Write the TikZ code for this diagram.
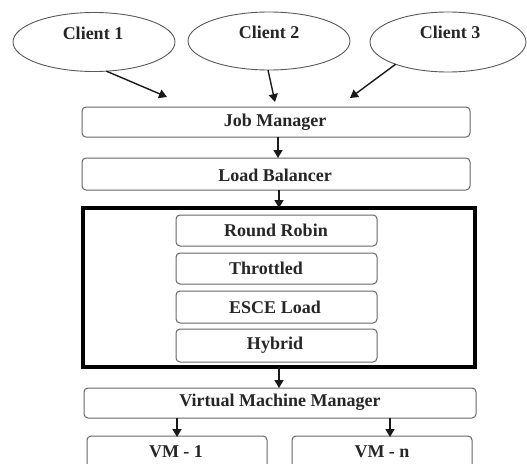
\documentclass[tikz,border=0pt]{standalone}
\usepackage{fontspec}
\setmainfont{Liberation Serif}
\usetikzlibrary{shapes.geometric,arrows.meta}
\begin{document}
\begin{tikzpicture}[x=1pt,y=-1pt,
  every node/.style={inner sep=0pt,outer sep=0pt},
  txt/.style={font=\fontsize{18}{20}\selectfont\bfseries, text=black!85},
  client/.style={ellipse,draw=black!65,line width=0.9pt},
  box/.style={draw=black!60,line width=1pt,rounded corners=4pt},
  arr/.style={draw=black!90,line width=1.4pt,-{Triangle[length=8pt,width=9pt]}}]
\useasboundingbox (0,0) rectangle (527,463);
\clip (0,0) rectangle (527,463);
\fill[white] (0,0) rectangle (527,463);
% clients
\node[client,minimum width=162,minimum height=59] (c1) at (94,42) {};
\node[client,minimum width=162,minimum height=58] (c2) at (269,41) {};
\node[client,minimum width=156,minimum height=60] (c3) at (448,42) {};
\node[txt] (t1) at (93,33) {Client 1};
\node[txt] (t2) at (269,32) {Client 2};
\node[txt] (t3) at (450,32) {Client 3};
% boxes
\node[box,minimum width=388,minimum height=30] (jm) at (276,122) {};
\node[txt] (jmt) at (275,122) {Job Manager};
\node[box,minimum width=388,minimum height=32] (lb) at (276,174) {};
\node[txt] (lbt) at (275,175) {Load Balancer};
\node[draw=black,line width=4pt,minimum width=392,minimum height=159] (fr) at (279,287.5) {};
\node[box,minimum width=201,minimum height=31] (rr) at (276.5,230.5) {};
\node[txt] (rrt) at (276,230.5) {Round Robin};
\node[box,minimum width=201,minimum height=31] (th) at (276.5,268.5) {};
\node[txt] (tht) at (266,268.5) {Throttled};
\node[box,minimum width=201,minimum height=32] (es) at (276.5,307) {};
\node[txt] (est) at (275,307) {ESCE Load};
\node[box,minimum width=201,minimum height=33] (hy) at (276.5,345.5) {};
\node[txt] (hyt) at (275,345.5) {Hybrid};
\node[box,minimum width=392,minimum height=30] (vmm) at (280,403) {};
\node[txt] (vmmt) at (280,402) {Virtual Machine Manager};
\node[box,minimum width=180,minimum height=50] (vm1) at (177,461) {};
\node[txt] (vm1t) at (176,452) {VM - 1};
\node[box,minimum width=180,minimum height=50] (vmn) at (382,461) {};
\node[txt] (vmnt) at (382,452) {VM - n};
% arrow ends
\coordinate (j1) at (167,97);
\coordinate (j2) at (275,102);
\coordinate (j3) at (350,98);
% connectors
\draw[arr] (c1.-67) -- (j1);
\draw[arr] (c2.-92) -- (j2);
\draw[arr] (c3.-157) -- (j3);
\draw[arr] ([xshift=2pt]jm.south) -- ([xshift=2pt]lb.north);
\draw[arr] ([xshift=3pt]lb.north |- lb.south) -- ([xshift=3pt]lb.north |- fr.north);
\draw[arr] (fr.south) -- (fr.south |- vmm.north);
\draw[arr] (vm1.north |- vmm.south) -- ([yshift=-1pt]vm1.north);
\draw[arr] ([xshift=8pt]vmn.north |- vmm.south) -- ([xshift=8pt,yshift=-1pt]vmn.north);
\end{tikzpicture}
\end{document}
